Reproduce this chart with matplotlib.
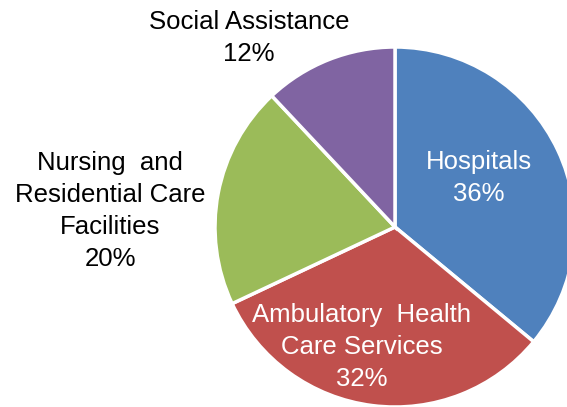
import matplotlib.pyplot as plt

plt.rcParams['font.family'] = ['Liberation Sans', 'DejaVu Sans']

categories = ['Hospitals', 'Ambulatory  Health\nCare Services', 'Nursing  and\nResidential Care\nFacilities', 'Social Assistance']
shares = [36, 32, 20, 12]
colors = ['#4F81BD', '#C0504D', '#9BBB59', '#8064A2']

W, H = 567, 407
fig = plt.figure(figsize=(W / 100, H / 100), dpi=100)
ax = fig.add_axes([0, 0, 1, 1])

# pie in pixel coordinates (y measured from bottom)
cx, cy, r = 395, H - 227, 180
ax.pie(shares, colors=colors, startangle=90, counterclock=False,
       center=(cx, cy), radius=r,
       wedgeprops=dict(edgecolor='white', linewidth=2.5))
ax.set_xlim(0, W)
ax.set_ylim(0, H)
ax.set_aspect('equal')
ax.axis('off')

# label positions (pixel, from top)
label_pos = [(479, 178), (362, 347), (110, 211), (249, 38)]
label_col = ['white', 'white', 'black', 'black']
for name, val, (x, y), c in zip(categories, shares, label_pos, label_col):
    ax.text(x, H - y, f'{name}\n{val}%', ha='center', va='center',
            color=c, fontsize=18.5, linespacing=1.42)

fig.savefig('out.png', dpi=100)
